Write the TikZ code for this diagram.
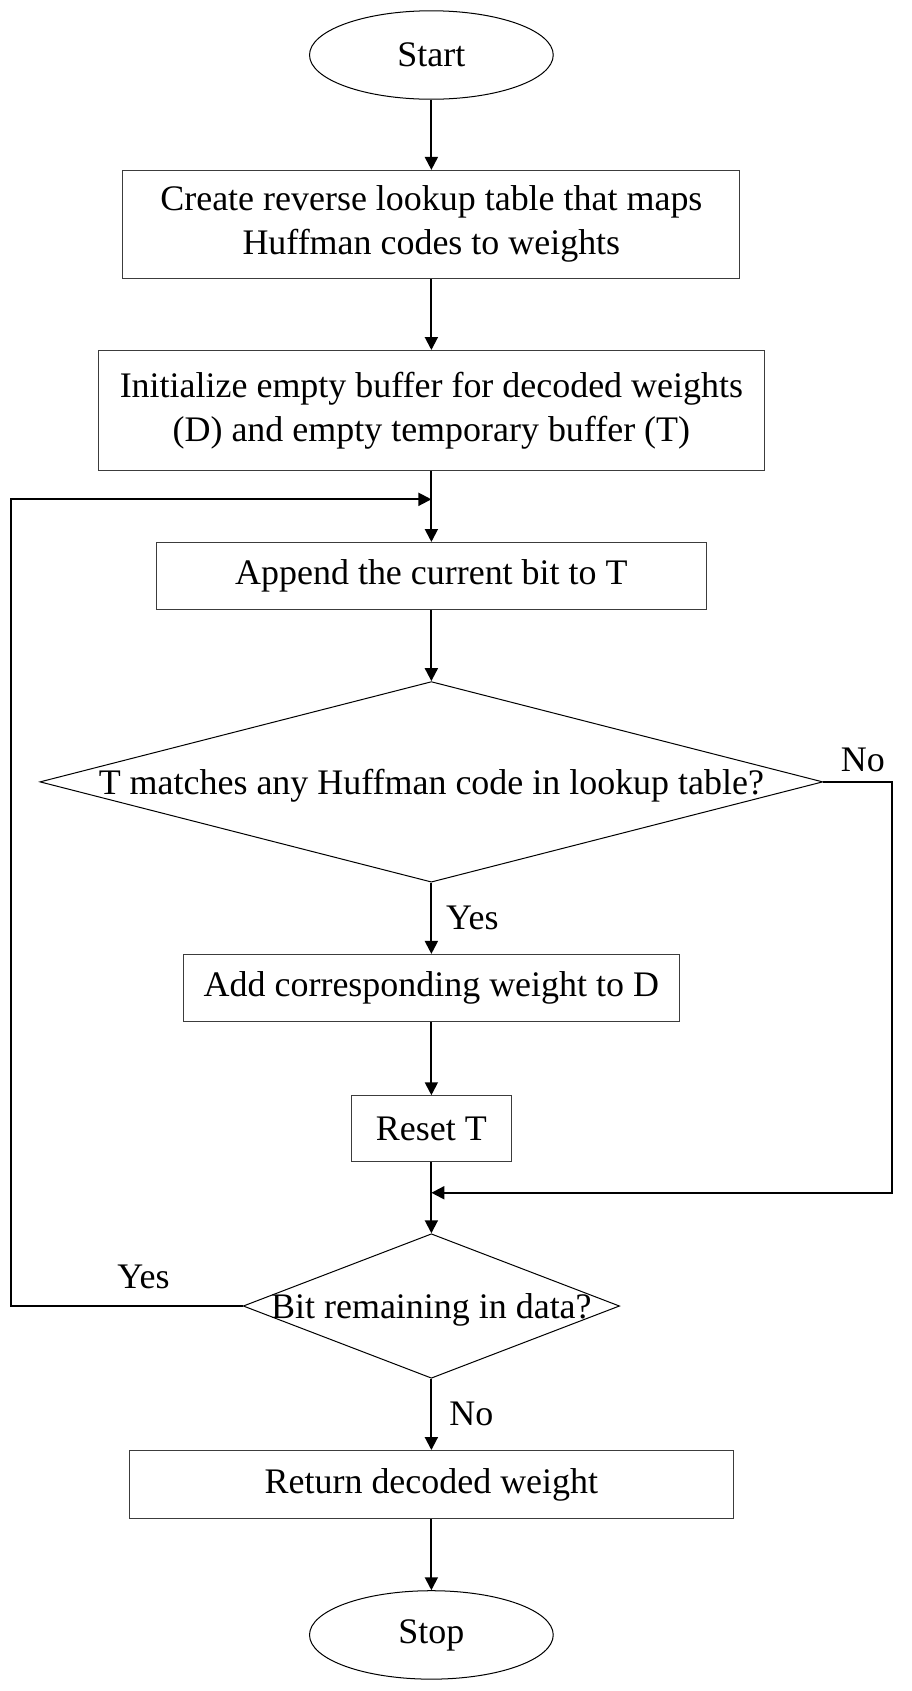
\documentclass[tikz,border=0pt]{standalone}
\usepackage{fontspec}
\setmainfont{Liberation Serif}
\usetikzlibrary{shapes.geometric,arrows.meta}

\tikzset{every picture/.style={line width=0.75pt}}
\tikzset{
  boxnode/.style={draw={rgb, 255:red, 60; green, 60; blue, 60}, line width=0.7pt, rectangle, inner sep=0pt, align=center},
  termnode/.style={draw, line width=0.7pt, ellipse, inner sep=0pt, minimum width=169.5pt, minimum height=61.5pt},
  decision/.style={draw, line width=0.7pt, diamond, inner sep=0pt},
  flow/.style={line width=1.4pt, -{Triangle[length=9pt,width=9pt]}},
  txt/.style={font=\fontsize{25}{30.5}\selectfont}
}

\begin{document}
\begin{tikzpicture}[x=0.75pt,y=0.75pt,yscale=-1,xscale=1]
	\useasboundingbox (0,0) rectangle (845,1568);

	%Terminal: Start
	\node [termnode, txt] (start) at (400,51) {Start};
	%Process boxes
	\node [boxnode, txt, minimum width=429pt, minimum height=75pt] (lut) at (400,208) {Create reverse lookup table that maps\\Huffman codes to weights};
	\node [boxnode, txt, minimum width=462.75pt, minimum height=83.25pt] (init) at (400,380.5) {Initialize empty buffer for decoded weights\\(D) and empty temporary buffer (T)};
	\node [boxnode, txt, minimum width=382.5pt, minimum height=46.5pt] (app) at (400,534) {Append the current bit to T};
	%Decision: match
	\node [decision, minimum width=544.5pt, minimum height=139.5pt] (match) at (400,725) {};
	\node [txt] (matchtxt) at ([yshift=3pt]match.center) {T matches any Huffman code in lookup table?};
	\node [boxnode, txt, minimum width=345pt, minimum height=46.5pt] (add) at (400,916) {Add corresponding weight to D};
	\node [boxnode, txt, minimum width=111.75pt, minimum height=45.75pt] (reset) at (400,1046.5) {Reset T};
	%Decision: remaining
	\node [decision, minimum width=261.75pt, minimum height=100.5pt] (remain) at (400,1211) {};
	\node [txt] (remaintxt) at ([yshift=3pt]remain.center) {Bit remaining in data?};
	\node [boxnode, txt, minimum width=420pt, minimum height=47.25pt] (ret) at (400,1376.5) {Return decoded weight};
	%Terminal: Stop
	\node [termnode, txt] (stop) at (400,1516) {Stop};

	%Junctions
	\coordinate (loop) at (400,463);
	\coordinate (merge) at (400,1106);
	\coordinate (nocorner) at (827,725);
	\coordinate (yescorner) at (10,1211);

	%Connectors
	\draw [flow] (start) -- (lut);
	\draw [flow] (lut) -- (init);
	\draw [flow] (init) -- (app);
	\draw [flow] (app) -- (match.north);
	\draw [flow] (match.south) -- (add);
	\draw [flow] (add) -- (reset);
	\draw [flow] (reset) -- (remain.north);
	\draw [flow] (remain.south) -- (ret);
	\draw [flow] (ret) -- (stop);
	\draw [flow] (match.east) -- (nocorner) |- (merge);
	\draw [flow] (remain.west) -- (yescorner) |- (loop);

	% Text Node
	\node [txt] (nolbl1) at (800,705) {No};
	% Text Node
	\node [txt] (yeslbl1) at (438,851) {Yes};
	% Text Node
	\node [txt] (yeslbl2) at (133,1184) {Yes};
	% Text Node
	\node [txt] (nolbl2) at (437,1311) {No};

\end{tikzpicture}
\end{document}
